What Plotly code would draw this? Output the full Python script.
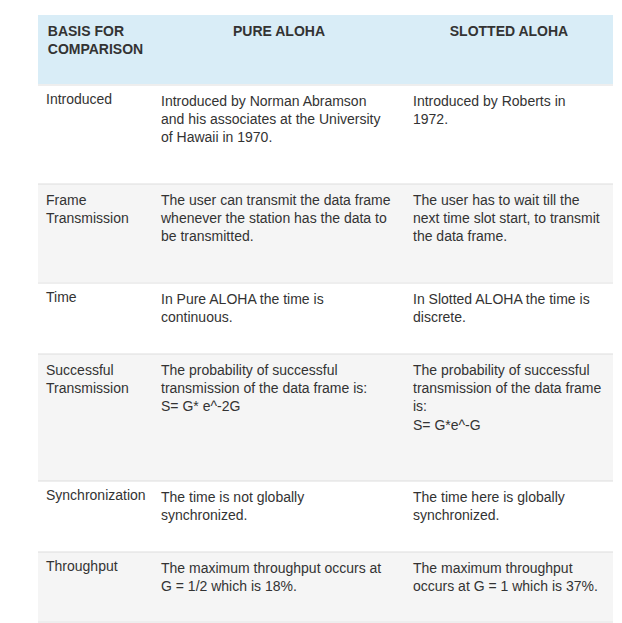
import plotly.graph_objects as go

W, H = 622, 623

header = ["BASIS FOR<br>COMPARISON", "PURE ALOHA", "SLOTTED ALOHA"]
basis = ["Introduced", "Frame<br>Transmission", "Time", "Successful<br>Transmission",
         "Synchronization", "Throughput"]
pure = ["Introduced by Norman Abramson<br>and his associates at the University<br>of Hawaii in 1970.",
        "The user can transmit the data frame<br>whenever the station has the data to<br>be transmitted.",
        "In Pure ALOHA the time is<br>continuous.",
        "The probability of successful<br>transmission of the data frame is:<br>S= G* e^-2G",
        "The time is not globally<br>synchronized.",
        "The maximum throughput occurs at<br>G = 1/2 which is 18%."]
slotted = ["Introduced by Roberts in<br>1972.",
           "The user has to wait till the<br>next time slot start, to transmit<br>the data frame.",
           "In Slotted ALOHA the time is<br>discrete.",
           "The probability of successful<br>transmission of the data frame<br>is:<br>S= G*e^-G",
           "The time here is globally<br>synchronized.",
           "The maximum throughput<br>occurs at G = 1 which is 37%."]

# row boundaries in pixels (top to bottom)
bounds = [7, 77, 176, 275, 346, 473, 544, 614]
x0, x1 = 30 / W, 605 / W
colw = [115, 252, 208]

fig = go.Figure()
rows = [header] + [[b, p, s] for b, p, s in zip(basis, pure, slotted)]
for i, row in enumerate(rows):
    top, bot = bounds[i], bounds[i + 1]
    if i == 0:
        fill, align, font = "#d9edf7", "center", dict(family="Liberation Sans", size=14, color="#333333")
        row = ["<b>%s</b>" % t for t in row]
    else:
        fill = "#ffffff" if i % 2 == 1 else "#f5f5f5"
        align, font = "left", dict(family="Liberation Sans", size=14, color="#333333")
    fig.add_trace(go.Table(
        domain=dict(x=[x0, x1], y=[1 - bot / H, 1 - top / H]),
        columnwidth=colw,
        header=dict(values=row, fill_color=fill, align=align, font=font,
                    line_width=0, height=bot - top, ),
        cells=dict(values=[[], [], []], line_width=0),
    ))
    fig.add_shape(type="line", xref="paper", yref="paper", x0=x0, x1=x1,
                  y0=1 - bot / H, y1=1 - bot / H, line=dict(color="#dddddd", width=1))

fig.update_layout(width=W, height=H, margin=dict(l=0, r=0, t=0, b=0),
                  paper_bgcolor="white")
fig.write_html("out.html")
